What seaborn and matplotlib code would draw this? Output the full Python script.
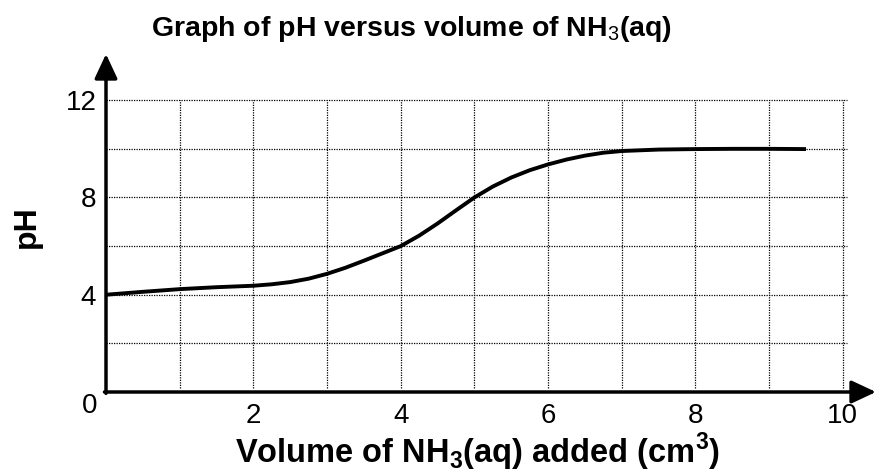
import matplotlib
matplotlib.use('Agg')
import matplotlib.pyplot as plt
import seaborn as sns
import pandas as pd

# values
volume = [0, 0.5, 1, 1.5, 2, 2.25, 2.5, 2.75, 3, 3.25, 3.5, 3.75, 4, 4.25, 4.5, 4.75, 5,
          5.25, 5.5, 5.75, 6, 6.25, 6.5, 6.75, 7, 7.5, 8, 8.5, 9, 9.5]
ph = [4.0, 4.12, 4.23, 4.31, 4.37, 4.43, 4.52, 4.66, 4.86, 5.11, 5.4, 5.7, 6.0, 6.43, 6.93,
      7.47, 8.0, 8.45, 8.82, 9.12, 9.36, 9.56, 9.72, 9.84, 9.91, 9.97, 9.99, 10.0, 10.0, 9.99]

x_ticks = [2, 4, 6, 8, 10]
y_ticks = [4, 8, 12]
grid_x = [1, 2, 3, 4, 5, 6, 7, 8, 9, 10]
grid_y = [2, 4, 6, 8, 10, 12]

sns.set_style('white')
plt.rcParams['font.family'] = ['Liberation Sans', 'DejaVu Sans']
plt.rcParams['mathtext.fontset'] = 'custom'
plt.rcParams['mathtext.rm'] = 'Liberation Sans'
plt.rcParams['mathtext.bf'] = 'Liberation Sans:bold'
plt.rcParams['text.color'] = 'black'
plt.rcParams['xtick.color'] = 'black'
plt.rcParams['ytick.color'] = 'black'

df = pd.DataFrame({'volume': volume, 'ph': ph})

fig = plt.figure(figsize=(8.78, 4.72), dpi=100)
ax = fig.add_axes([106 / 878, 80 / 472, 770 / 878, 338 / 472])
ax.set_xlim(0, 10.45)
ax.set_ylim(0, 13.9)

# dotted grid, only inside the 0-10 / 0-12 box
ax.vlines(grid_x, 0.15, max(grid_y), colors='black', linestyles=(0, (1, 1)), lw=0.9, zorder=1)
ax.hlines(grid_y, 0, max(grid_x) + 0.05, colors='black', linestyles=(0, (1, 1)), lw=0.9, zorder=1)

sns.lineplot(data=df, x='volume', y='ph', ax=ax, color='black', lw=2.8, zorder=3)
ax.lines[-1].set_solid_capstyle('butt')
ax.lines[-1].set_solid_joinstyle('round')

for s in ax.spines.values():
    s.set_visible(False)

# axes with arrow heads
arrow = dict(arrowstyle='-|>,head_length=0.75,head_width=0.35', lw=2.5, color='black',
             shrinkA=0, shrinkB=0, mutation_scale=20)
ax.annotate('', xy=(1, 0), xytext=(-0.002, 0), xycoords='axes fraction', arrowprops=arrow)
ax.annotate('', xy=(0, 1), xytext=(0, -0.004), xycoords='axes fraction', arrowprops=arrow)

ax.set_xticks(x_ticks)
ax.set_yticks(y_ticks)
ax.tick_params(axis='both', length=0, labelsize=20)
ax.tick_params(axis='x', pad=8)
ax.tick_params(axis='y', pad=7)
ax.set_xlabel('')
ax.set_ylabel('')

fig.text(90 / 878, 1 - 406 / 472, '0', fontsize=20, ha='center', va='center')

fig.text(412 / 878, 1 - 36 / 472, r'Graph of pH versus volume of NH$_{\mathrm{3}}$(aq)',
         fontsize=20.5, fontweight='bold', ha='center', va='baseline')
fig.text(478 / 878, 1 - 463 / 472, r'Volume of NH$_{\mathbf{3}}$(aq) added (cm$^{\mathbf{3}}$)',
         fontsize=23.5, fontweight='bold', ha='center', va='baseline')
fig.text(27 / 878, 1 - 227 / 472, 'pH', fontsize=23, fontweight='bold', rotation=90,
         ha='center', va='center')

fig.savefig('out.png', dpi=100)
